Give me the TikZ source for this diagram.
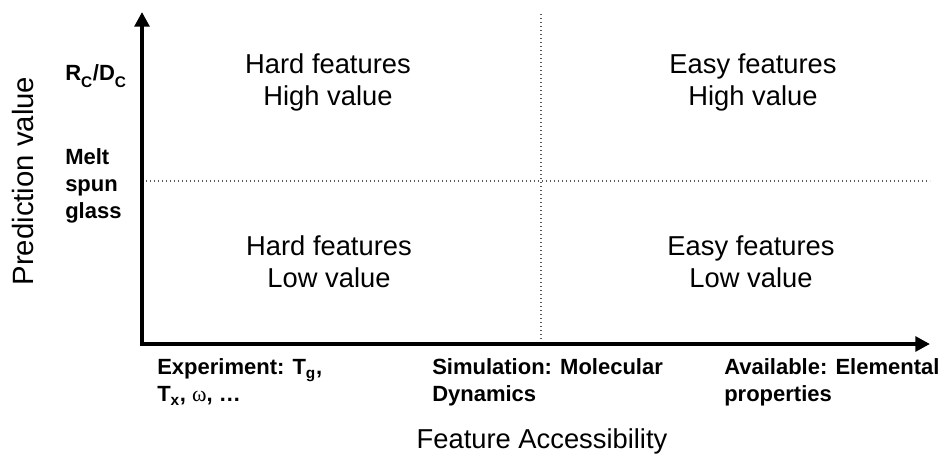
\documentclass[tikz,border=0pt]{standalone}
\usepackage{fontspec}
\setmainfont{Liberation Sans}
\newfontfamily\symbfont{Liberation Serif}
\usetikzlibrary{arrows.meta}

\tikzset{
    quadtext/.style={align=center, font=\fontsize{20.5}{24}\selectfont},
    sidetext/.style={align=left, anchor=west, inner sep=0pt, font=\bfseries\fontsize{16.5}{20.25}\selectfont},
    axisline/.style={line width=3pt, {Triangle[length=11pt,width=11pt]}-{Triangle[length=11pt,width=11pt]}},
    splitline/.style={gray!70!black, dotted, line width=1pt},
}

\begin{document}
\begin{tikzpicture}[x=0.75pt,y=-0.75pt]
        \useasboundingbox (0,0) rectangle (951,457);

        \coordinate (origin) at (142,344);
        \coordinate (ytip) at (142,12);
        \coordinate (xtip) at (930,344);

        % quadrant split
        \draw[splitline] (541,14) -- (541,344);
        \draw[splitline] (142,181) -- (930,181);

        \draw[axisline] (ytip) -- (origin) -- (xtip);

        \node[quadtext] (hardhigh) at (328,82) {Hard features\\High value};
        \node[quadtext] (easyhigh) at (753,82) {Easy features\\High value};
        \node[quadtext] (hardlow) at (329,262) {Hard features\\Low value};
        \node[quadtext] (easylow) at (751,262) {Easy features\\Low value};

        \node[sidetext] (rcdc) at (65,76) {R\raisebox{-0.3ex}{\textsubscript{C}}/D\raisebox{-0.3ex}{\textsubscript{C}}};
        \node[sidetext] (melt) at (65,186) {Melt\\spun\\glass};

        \node[sidetext] (expt) at (157,382) {Experiment: T\textsubscript{g},\\T\textsubscript{x}, {\symbfont\mdseries ω}, \dots};
        \node[sidetext] (sim) at (432,382) {Simulation: Molecular\\Dynamics};
        \node[sidetext] (avail) at (724,382) {Available: Elemental\\properties};

        \node[rotate=90, font=\fontsize{22}{26}\selectfont] (ylabel) at (23,181) {Prediction value};
        \node[font=\fontsize{20.5}{24}\selectfont] (xlabel) at (542,441) {Feature Accessibility};
    \end{tikzpicture}
\end{document}
